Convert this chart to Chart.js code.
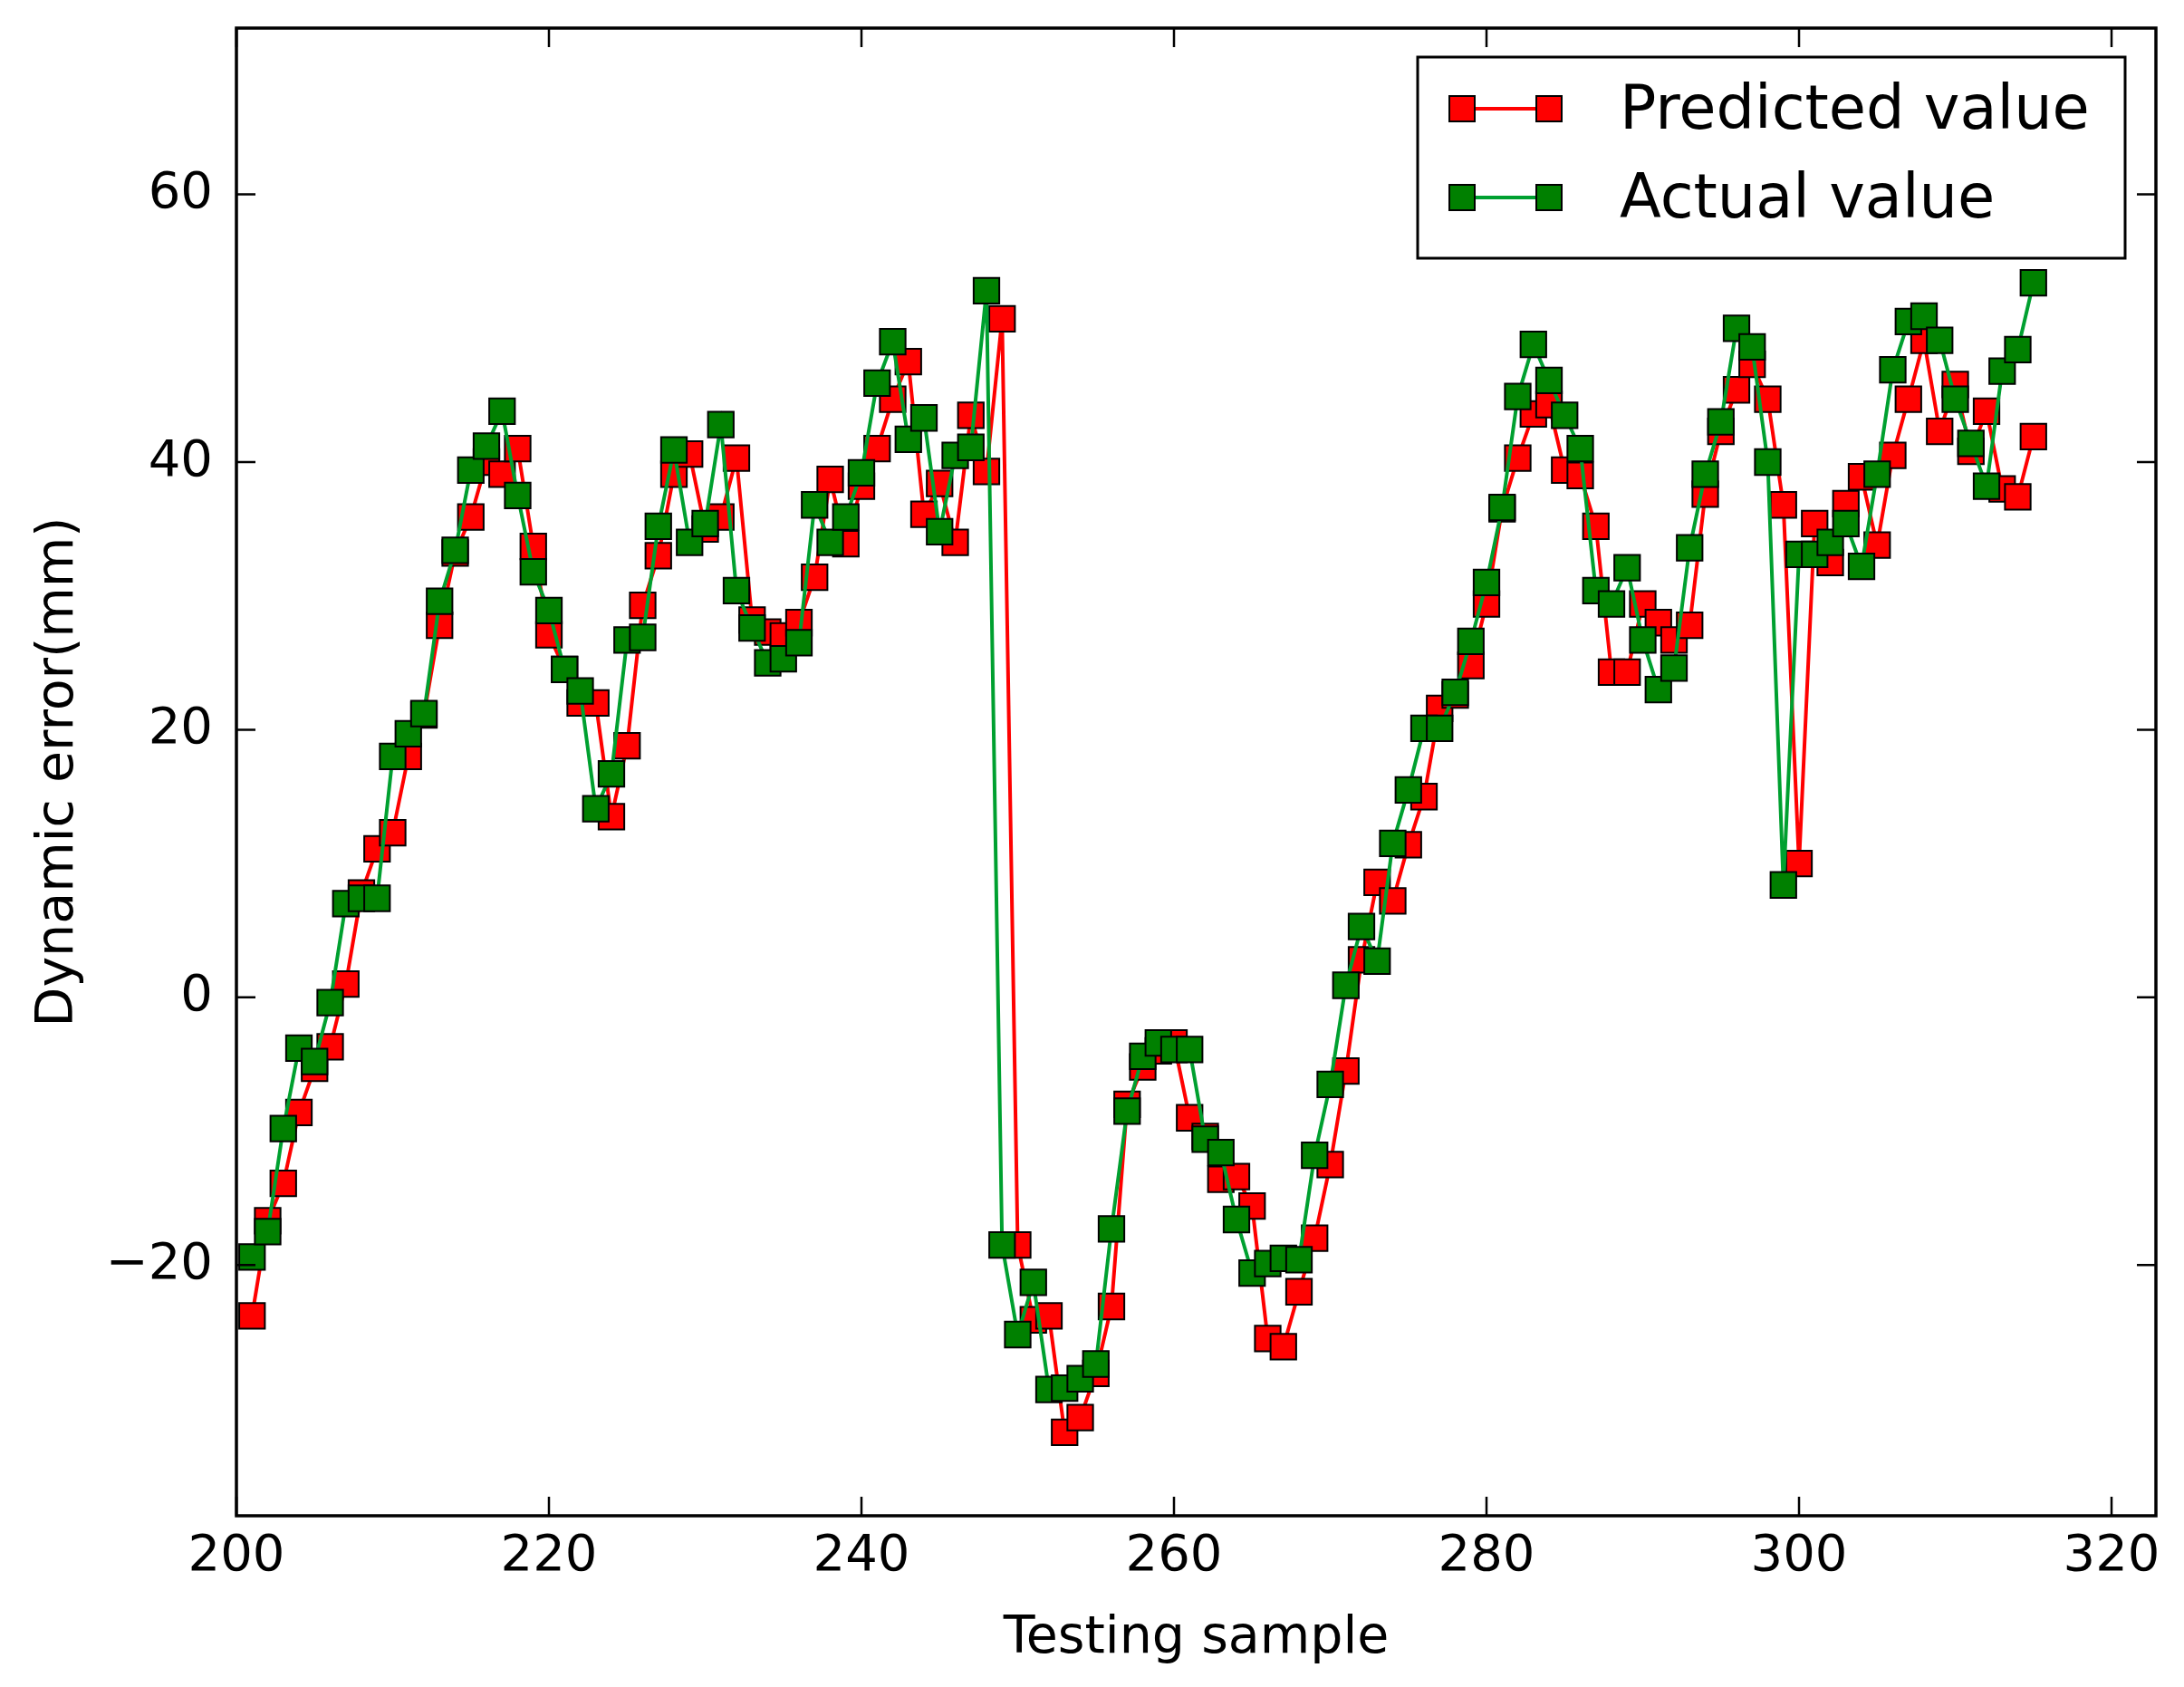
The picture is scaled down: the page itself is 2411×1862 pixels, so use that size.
<!DOCTYPE html>
<html>
<head>
<meta charset="utf-8">
<script src="https://cdn.jsdelivr.net/npm/chart.js@4.4.1/dist/chart.umd.min.js"></script>
<style>
  html, body { margin: 0; padding: 0; background: #fff; }
  #wrap { width: 2411px; height: 1862px; }
</style>
</head>
<body>
<div id="wrap"><canvas id="chart"></canvas></div>
<script>
// testing sample index (x)
var samples = [
  201, 202, 203, 204, 205, 206, 207, 208, 209, 210, 211, 212, 213, 214, 215, 216, 217, 218, 219, 220,
  221, 222, 223, 224, 225, 226, 227, 228, 229, 230, 231, 232, 233, 234, 235, 236, 237, 238, 239, 240,
  241, 242, 243, 244, 245, 246, 247, 248, 249, 250, 251, 252, 253, 254, 255, 256, 257, 258, 259, 260,
  261, 262, 263, 264, 265, 266, 267, 268, 269, 270, 271, 272, 273, 274, 275, 276, 277, 278, 279, 280,
  281, 282, 283, 284, 285, 286, 287, 288, 289, 290, 291, 292, 293, 294, 295, 296, 297, 298, 299, 300,
  301, 302, 303, 304, 305, 306, 307, 308, 309, 310, 311, 312, 313, 314, 315
];

// dynamic error (mm)
var predicted = [
  -23.8, -16.7, -13.9, -8.6, -5.3, -3.7, 1.0, 7.8, 11.1, 12.3, 18.0, 21.1, 27.8, 33.2, 35.9, 40.0, 39.1, 41.0, 33.7, 27.1,
  24.5, 22.0, 22.0, 13.5, 18.8, 29.3, 33.0, 39.1, 40.6, 35.0, 35.9, 40.3, 28.2, 27.3, 27.0, 28.0, 31.4, 38.7, 33.9, 38.2,
  41.0, 44.7, 47.5, 36.1, 38.4, 34.0, 43.5, 39.3, 50.7, -18.5, -24.1, -23.8, -32.5, -31.4, -28.1, -23.1, -8.0, -5.2, -4.0, -3.4,
  -9.0, -10.4, -13.6, -13.4, -15.6, -25.5, -26.1, -22.0, -18.0, -12.5, -5.5, 2.8, 8.6, 7.2, 11.4, 15.0, 21.6, 22.6, 24.8, 29.4,
  36.5, 40.3, 43.6, 44.3, 39.4, 39.0, 35.2, 24.3, 24.3, 29.4, 28.0, 26.7, 27.8, 37.6, 42.3, 45.4, 47.3, 44.7, 36.8, 10.0,
  35.4, 32.5, 36.9, 38.9, 33.8, 40.5, 44.7, 49.1, 42.3, 45.8, 40.8, 43.8, 38.0, 37.4, 41.9
];

var actual = [
  -19.4, -17.5, -9.8, -3.8, -4.8, -0.4, 7.0, 7.4, 7.4, 18.0, 19.7, 21.2, 29.6, 33.4, 39.4, 41.2, 43.8, 37.5, 31.8, 28.9,
  24.5, 22.9, 14.1, 16.7, 26.7, 26.9, 35.2, 40.9, 34.0, 35.4, 42.8, 30.4, 27.6, 25.0, 25.3, 26.5, 36.8, 34.0, 35.9, 39.2,
  45.9, 49.0, 41.7, 43.3, 34.8, 40.5, 41.1, 52.8, -18.5, -25.2, -21.3, -29.3, -29.2, -28.5, -27.4, -17.3, -8.5, -4.4, -3.4, -3.9,
  -3.9, -10.6, -11.6, -16.6, -20.6, -19.9, -19.5, -19.6, -11.8, -6.5, 0.9, 5.3, 2.7, 11.5, 15.5, 20.1, 20.1, 22.8, 26.6, 31.0,
  36.6, 44.9, 48.8, 46.1, 43.5, 41.0, 30.4, 29.4, 32.1, 26.7, 23.0, 24.6, 33.6, 39.1, 43.0, 50.0, 48.6, 40.0, 8.4, 33.1,
  33.1, 34.0, 35.4, 32.2, 39.1, 46.9, 50.5, 50.9, 49.1, 44.7, 41.4, 38.2, 46.8, 48.4, 53.4
];

var seriesNames = ['Predicted value', 'Actual value'];
var xTicks = [200, 220, 240, 260, 280, 300, 320];
var yTicks = [-20, 0, 20, 40, 60];

var FONT = "'DejaVu Sans', 'Liberation Sans', sans-serif";
Chart.defaults.color = '#000';
Chart.defaults.font.family = FONT;

function toPoints(vals) {
  return samples.map(function (s, i) { return { x: s, y: vals[i] }; });
}

// no extra label overflow padding, the plot box is fixed
function noPadding(scale) {
  scale.paddingTop = 0;
  scale.paddingBottom = 0;
  scale.paddingLeft = 0;
  scale.paddingRight = 0;
}

// frame + inward ticks on all four sides (classic matplotlib look)
var framePlugin = {
  id: 'frame',
  afterDatasetsDraw: function (chart) {
    var ctx = chart.ctx, a = chart.chartArea;
    var xs = chart.scales.x, ys = chart.scales.y;
    var tl = 21;
    ctx.save();
    ctx.strokeStyle = '#000';
    ctx.lineWidth = 2.5;
    ctx.beginPath();
    xTicks.forEach(function (v) {
      var px = xs.getPixelForValue(v);
      ctx.moveTo(px, a.bottom); ctx.lineTo(px, a.bottom - tl);
      ctx.moveTo(px, a.top); ctx.lineTo(px, a.top + tl);
    });
    yTicks.forEach(function (v) {
      var py = ys.getPixelForValue(v);
      ctx.moveTo(a.left, py); ctx.lineTo(a.left + tl, py);
      ctx.moveTo(a.right, py); ctx.lineTo(a.right - tl, py);
    });
    ctx.stroke();
    ctx.lineWidth = 3.5;
    ctx.strokeRect(a.left, a.top, a.right - a.left, a.bottom - a.top);
    ctx.restore();
  }
};

// matplotlib-style legend: line with a marker at each end
var legendPlugin = {
  id: 'mplLegend',
  afterDraw: function (chart) {
    var ctx = chart.ctx;
    var box = { x: 1565, y: 63, w: 781, h: 222 };
    ctx.save();
    ctx.fillStyle = '#fff';
    ctx.fillRect(box.x, box.y, box.w, box.h);
    ctx.strokeStyle = '#000';
    ctx.lineWidth = 3;
    ctx.strokeRect(box.x, box.y, box.w, box.h);
    var rows = [120, 218];
    chart.data.datasets.forEach(function (ds, i) {
      var y = rows[i], x1 = 1614, x2 = 1710, s = 28;
      ctx.strokeStyle = ds.borderColor;
      ctx.lineWidth = ds.borderWidth;
      ctx.beginPath();
      ctx.moveTo(x1, y); ctx.lineTo(x2, y);
      ctx.stroke();
      ctx.fillStyle = ds.pointBackgroundColor;
      ctx.strokeStyle = '#000';
      ctx.lineWidth = 2;
      [x1, x2].forEach(function (cx) {
        ctx.fillRect(cx - s / 2, y - s / 2, s, s);
        ctx.strokeRect(cx - s / 2, y - s / 2, s, s);
      });
      ctx.fillStyle = '#000';
      ctx.font = '67px ' + FONT;
      ctx.textAlign = 'left';
      ctx.textBaseline = 'middle';
      ctx.fillText(ds.label, 1788, y + 5);
    });
    ctx.restore();
  }
};

var ctx = document.getElementById('chart').getContext('2d');
new Chart(ctx, {
  type: 'line',
  data: {
    datasets: [
      {
        label: seriesNames[0],
        data: toPoints(predicted),
        borderColor: '#ff0000',
        borderWidth: 4,
        pointStyle: 'rect',
        pointRadius: 20,
        pointBackgroundColor: '#ff0000',
        pointBorderColor: '#000',
        pointBorderWidth: 2,
        tension: 0,
        order: 2
      },
      {
        label: seriesNames[1],
        data: toPoints(actual),
        borderColor: '#00a030',
        borderWidth: 4,
        pointStyle: 'rect',
        pointRadius: 20,
        pointBackgroundColor: '#008000',
        pointBorderColor: '#000',
        pointBorderWidth: 2,
        tension: 0,
        order: 1
      }
    ]
  },
  options: {
    responsive: true,
    maintainAspectRatio: false,
    devicePixelRatio: 1,
    animation: false,
    layout: { padding: { left: 0, top: 31, right: 31, bottom: 0 } },
    plugins: {
      legend: { display: false },
      tooltip: { enabled: false }
    },
    scales: {
      x: {
        type: 'linear',
        min: 200,
        max: 322.84,
        grid: { display: false, drawTicks: false },
        border: { display: false },
        afterBuildTicks: function (scale) {
          scale.ticks = xTicks.map(function (v) { return { value: v }; });
        },
        afterFit: function (scale) { scale.height = 189; noPadding(scale); },
        ticks: {
          font: { size: 56 },
          padding: 12,
          maxRotation: 0,
          autoSkip: false
        },
        title: {
          display: true,
          text: 'Testing sample',
          font: { size: 57 },
          padding: { top: 0, bottom: 19 }
        }
      },
      y: {
        min: -38.74,
        max: 72.43,
        grid: { display: false, drawTicks: false },
        border: { display: false },
        afterBuildTicks: function (scale) {
          scale.ticks = yTicks.map(function (v) { return { value: v }; });
        },
        afterFit: function (scale) { scale.width = 261; noPadding(scale); },
        ticks: {
          font: { size: 56 },
          padding: 26,
          callback: function (v) { return v < 0 ? '\u2212' + Math.abs(v) : String(v); }
        },
        title: {
          display: true,
          text: 'Dynamic error(mm)',
          font: { size: 57 },
          padding: { top: 31, bottom: 0 }
        }
      }
    }
  },
  plugins: [framePlugin, legendPlugin]
});
</script>
</body>
</html>
